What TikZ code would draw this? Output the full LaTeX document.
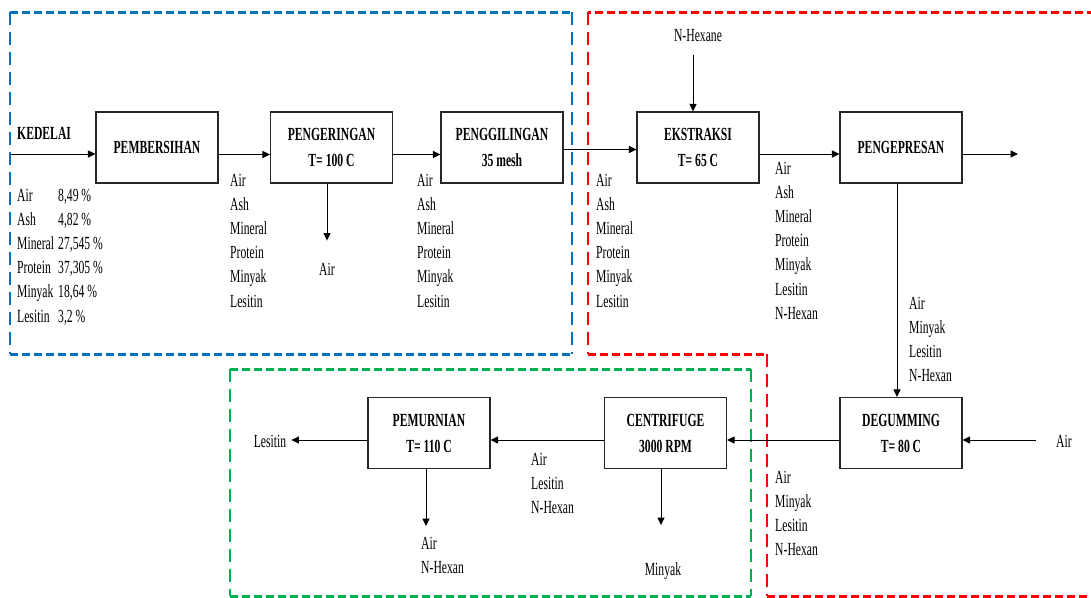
\documentclass[tikz,border=0pt]{standalone}
\usepackage{fontspec}
\setmainfont{Liberation Serif}[FakeStretch=0.63]
\usepackage{xcolor}
\usepackage{tikz}
\usetikzlibrary{arrows.meta, positioning, calc}
\definecolor{frameblue}{RGB}{0,112,192}
\definecolor{framered}{RGB}{255,0,0}
\definecolor{framegreen}{RGB}{0,176,80}
\tikzset{
  proc/.style={rectangle, draw=black!85, line width=1.1pt, minimum width=122pt,
               minimum height=71pt, inner sep=0pt, align=center,
               font=\fontsize{18.5}{26}\selectfont\bfseries},
  lbl/.style={anchor=base west, inner sep=0pt, font=\fontsize{18.5}{24}\selectfont},
  clbl/.style={lbl, anchor=base},
  arc/.style={-{Triangle[length=7.5pt,width=7pt]}, line width=1pt},
  hdash/.style={line width=3pt, dash pattern=on 8pt off 4pt},
  vdash/.style={line width=2pt, dash pattern=on 13pt off 7pt}
}
\begin{document}
\begin{tikzpicture}[x=1pt, y=-1pt]
  \useasboundingbox (0,0) rectangle (1091,597);
  \draw[hdash, frameblue] (10,12) -- (572,12) (10,354) -- (572,354);
  \draw[vdash, frameblue] (10,12) -- (10,354) (572,12) -- (572,354);
  \draw[hdash, framered] (1095,12) -- (588,12) (588,354) -- (767,354) (767,596) -- (1095,596);
  \draw[vdash, framered] (588,12) -- (588,354) (767,354) -- (767,596);
  \draw[hdash, framegreen] (230,369) -- (751,369) (230,596) -- (751,596);
  \draw[vdash, framegreen] (230,369) -- (230,596) (751,369) -- (751,596);

  \node[proc] (pb) at (157,147.5) {PEMBERSIHAN};
  \node[proc] (pg) at (331.5,147.5) {PENGERINGAN\\T= 100 C};
  \node[proc] (gl) at (502,147.5) {PENGGILINGAN\\35 mesh};
  \node[proc] (ek) at (698,147.5) {EKSTRAKSI\\T= 65 C};
  \node[proc] (pp) at (901,147.5) {PENGEPRESAN};
  \node[proc] (dg) at (901,433) {DEGUMMING\\T= 80 C};
  \node[proc] (cf) at (665.5,433) {CENTRIFUGE\\3000 RPM};
  \node[proc] (pm) at (429,433) {PEMURNIAN\\T= 110 C};

  \node[lbl, font=\fontsize{18.5}{24}\selectfont\bfseries] (kd) at (17,139) {KEDELAI};
  \foreach \n/\v [count=\i from 0] in {Air/{8,49}, Ash/{4,82}, Mineral/{27,545},
      Protein/{37,305}, Minyak/{18,64}, Lesitin/{3,2}} {
    \node[lbl] (kn\i) at (17,{201+24.2*\i}) {\n};
    \node[lbl] (kv\i) at (58,{201+24.2*\i}) {\v~\%};
  }
  \foreach \x/\s in {230/sa, 417/sb, 596/sc}
    \foreach \t [count=\i from 0] in {Air,Ash,Mineral,Protein,Minyak,Lesitin}
      \node[lbl] (\s\i) at (\x,{186+24.2*\i}) {\t};
  \foreach \t [count=\i from 0] in {Air,Ash,Mineral,Protein,Minyak,Lesitin,N-Hexan}
    \node[lbl] (sd\i) at (775,{174+24.2*\i}) {\t};
  \foreach \x/\y/\s in {909/309/se, 775/483/sf}
    \foreach \t [count=\i from 0] in {Air,Minyak,Lesitin,N-Hexan}
      \node[lbl] (\s\i) at (\x,{\y+24.2*\i}) {\t};
  \foreach \t [count=\i from 0] in {Air,Lesitin,N-Hexan}
    \node[lbl] (sg\i) at (531,{465+24.2*\i}) {\t};
  \foreach \t [count=\i from 0] in {Air,N-Hexan}
    \node[lbl] (sh\i) at (421,{549+24.2*\i}) {\t};

  \node[clbl] (nhex) at (698,41) {N-Hexane};
  \node[clbl] (airpg) at (327,275) {Air};
  \node[clbl] (airdg) at (1064,447) {Air};
  \node[clbl] (lesitin) at (270,447) {Lesitin};
  \node[clbl] (minyak) at (663,575) {Minyak};
  \coordinate (kin) at (11,154);
  \coordinate (pout) at (1018,154);
  \coordinate (nhx) at (693,55);
  \coordinate (ain) at (1036,440);
  \coordinate (lw) at ([yshift=-7pt]pm.west);

  \draw[arc] (kin) -- (kin -| pb.west);
  \draw[arc] ([yshift=-7pt]pb.east) -- ([yshift=-7pt]pg.west);
  \draw[arc] ([yshift=-7pt]pg.east) -- ([yshift=-7pt]gl.west);
  \draw[arc] ([yshift=-2pt]gl.east) -- ([yshift=-2pt]ek.west);
  \draw[arc] ([yshift=-6.5pt]ek.east) -- ([yshift=-6.5pt]pp.west);
  \draw[arc] ([yshift=-6.5pt]pp.east) -- (pout);
  \draw[arc] (nhx) -- (nhx |- ek.north);
  \draw[arc] ([xshift=-4.5pt]pg.south) -- ++(0,57);
  \draw[arc] ([xshift=-4pt]pp.south) -- ([xshift=-4pt]dg.north);
  \draw[arc] (ain) -- (ain -| dg.east);
  \draw[arc] ([yshift=-7pt]dg.west) -- ([yshift=-7pt]cf.east);
  \draw[arc] ([yshift=-7pt]cf.west) -- ([yshift=-7pt]pm.east);
  \draw[arc] (lw) -- ([xshift=5pt]lw -| lesitin.east);
  \draw[arc] ([xshift=-3pt]pm.south) -- ++(0,57);
  \draw[arc] ([xshift=-4.5pt]cf.south) -- ++(0,56);
\end{tikzpicture}
\end{document}
